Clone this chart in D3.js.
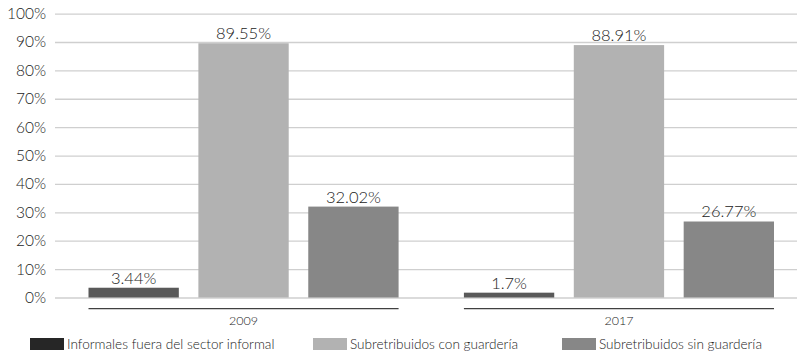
<!DOCTYPE html>
<html>
<head>
<meta charset="utf-8">
<script src="https://cdn.jsdelivr.net/npm/d3@7"></script>
<style>
  html, body { margin: 0; padding: 0; background: #fff; }
  svg { display: block; font-family: "Lato", "Open Sans", sans-serif; font-weight: 300; }
</style>
</head>
<body>
<svg id="chart" width="803" height="356"></svg>
<script>
// Years on the category axis
const years = ["2009", "2017"];
// Series names (legend order)
const seriesNames = [
  "Informales fuera del sector informal",
  "Subretribuidos con guardería",
  "Subretribuidos sin guardería"
];
// Percent values per series, one entry per year
const informalesFuera = [3.44, 1.7];
const conGuarderia = [89.55, 88.91];
const sinGuarderia = [32.02, 26.77];
// Value labels as printed above each bar
const labelsInformales = ["3.44%", "1.7%"];
const labelsCon = ["89.55%", "88.91%"];
const labelsSin = ["32.02%", "26.77%"];
// Y axis ticks
const yTicks = [0, 10, 20, 30, 40, 50, 60, 70, 80, 90, 100];

const seriesValues = [informalesFuera, conGuarderia, sinGuarderia];
const seriesLabels = [labelsInformales, labelsCon, labelsSin];
const barColors = ["#595959", "#b2b2b2", "#878787"];
const swatchColors = ["#262626", "#b2b2b2", "#878787"];
const textColor = "#222";

const svg = d3.select("#chart");

const y = d3.scaleLinear().domain([0, 100]).range([297.5, 13.6]);
const x0 = d3.scaleBand().domain(years).range([88.5, 774]).paddingInner(0.174).paddingOuter(0);
const x1 = d3.scaleBand().domain(d3.range(seriesNames.length)).range([0, x0.bandwidth()]).paddingInner(0.178).paddingOuter(0);

// Horizontal gridlines with percent labels
const yAxis = d3.axisLeft(y)
  .tickValues(yTicks)
  .tickFormat(d => d + "%")
  .tickSize(-(797 - 55))
  .tickPadding(10);

const gAxis = svg.append("g")
  .attr("transform", "translate(55,0)")
  .call(yAxis);
gAxis.select(".domain").remove();
gAxis.selectAll(".tick line")
  .attr("stroke", "#cfcfcf")
  .attr("stroke-width", 1.3);
gAxis.selectAll(".tick text")
  .attr("x", -9)
  .attr("fill", textColor)
  .style("font-family", "Lato, sans-serif")
  .style("font-weight", "300")
  .style("font-size", "15.5px");

// Bars
const groups = svg.append("g").selectAll("g")
  .data(years)
  .join("g")
  .attr("transform", d => `translate(${x0(d)},0)`);

groups.each(function(year, yi) {
  const g = d3.select(this);
  seriesValues.forEach((vals, si) => {
    const v = vals[yi];
    g.append("rect")
      .attr("x", x1(si))
      .attr("y", y(v))
      .attr("width", x1.bandwidth())
      .attr("height", y(0) - y(v))
      .attr("fill", barColors[si]);
    g.append("text")
      .attr("x", x1(si) + x1.bandwidth() / 2)
      .attr("y", y(v) - 4)
      .attr("text-anchor", "middle")
      .attr("fill", textColor)
      .style("font-size", "16.5px")
      .text(seriesLabels[si][yi]);
  });
});

// Category axis: a rule under each year group with its label
const cat = svg.append("g").selectAll("g")
  .data(years)
  .join("g")
  .attr("transform", d => `translate(${x0(d)},0)`);
cat.append("line")
  .attr("x1", 0)
  .attr("x2", x0.bandwidth())
  .attr("y1", 308.7)
  .attr("y2", 308.7)
  .attr("stroke", "#404040")
  .attr("stroke-width", 1.3);
cat.append("text")
  .attr("x", x0.bandwidth() / 2)
  .attr("y", 325)
  .attr("text-anchor", "middle")
  .attr("fill", textColor)
  .style("font-size", "12.5px")
  .text(d => d);

// Legend
const legendX = [30, 313, 562];
const legend = svg.append("g").selectAll("g")
  .data(seriesNames)
  .join("g")
  .attr("transform", (d, i) => `translate(${legendX[i]},338)`);
legend.append("rect")
  .attr("width", 34)
  .attr("height", 12)
  .attr("fill", (d, i) => swatchColors[i]);
legend.append("text")
  .attr("x", 37)
  .attr("y", 11)
  .attr("fill", textColor)
  .style("font-size", "13.6px")
  .text(d => d);
</script>
</body>
</html>
